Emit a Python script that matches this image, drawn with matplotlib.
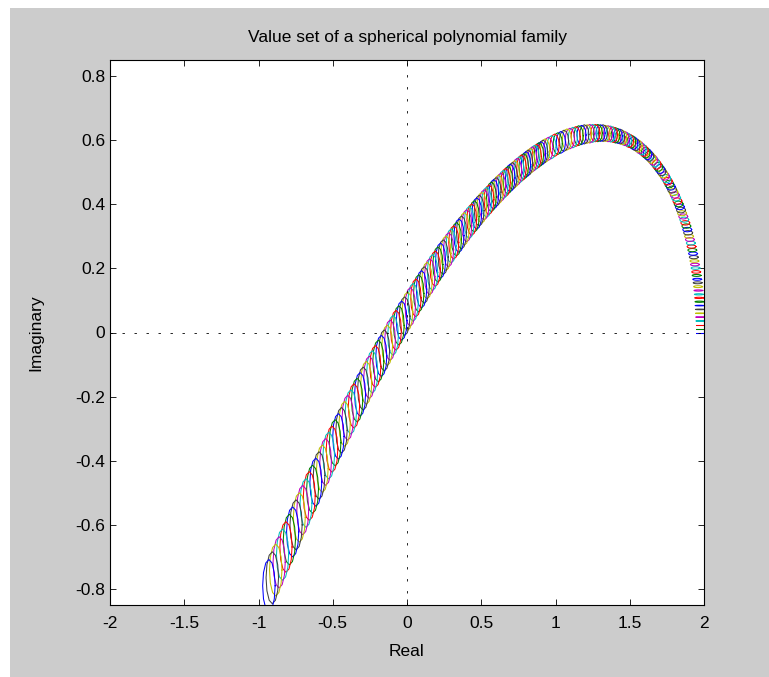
import numpy as np
import matplotlib
matplotlib.use('Agg')
import matplotlib.pyplot as plt
from matplotlib.patches import Rectangle

# value set at each frequency: centre (real, imag) and half-widths of the ellipse
value_re = [
    1.976, 1.976, 1.976, 1.975, 1.974, 1.973, 1.972, 1.970, 1.969, 1.967,
    1.965, 1.962, 1.960, 1.957, 1.954, 1.950, 1.947, 1.943, 1.939, 1.935,
    1.931, 1.926, 1.921, 1.916, 1.911, 1.905, 1.899, 1.893, 1.887, 1.881,
    1.874, 1.867, 1.860, 1.852, 1.845, 1.837, 1.829, 1.821, 1.812, 1.803,
    1.794, 1.785, 1.776, 1.766, 1.756, 1.746, 1.736, 1.725, 1.714, 1.703,
    1.692, 1.681, 1.669, 1.657, 1.645, 1.633, 1.620, 1.607, 1.594, 1.581,
    1.567, 1.554, 1.540, 1.525, 1.511, 1.496, 1.482, 1.466, 1.451, 1.436,
    1.420, 1.404, 1.388, 1.371, 1.354, 1.337, 1.320, 1.303, 1.285, 1.268,
    1.250, 1.231, 1.213, 1.194, 1.175, 1.156, 1.136, 1.117, 1.097, 1.077,
    1.057, 1.036, 1.015, 0.994, 0.973, 0.952, 0.930,
    0.916, 0.902, 0.888, 0.873, 0.859, 0.844, 0.830, 0.815, 0.801, 0.786,
    0.771, 0.756, 0.741, 0.725, 0.710, 0.695, 0.679, 0.664, 0.648, 0.632,
    0.616, 0.600, 0.584, 0.568, 0.552, 0.536, 0.519, 0.503, 0.486, 0.470,
    0.453, 0.436, 0.419, 0.402, 0.385, 0.367, 0.350, 0.333, 0.315, 0.297,
    0.280, 0.262, 0.244, 0.226, 0.208, 0.190, 0.172, 0.153, 0.135, 0.116,
    0.098, 0.079, 0.060, 0.041, 0.022, 0.003, -0.016, -0.036, -0.055, -0.074,
    -0.094, -0.114, -0.133, -0.153, -0.173, -0.193, -0.213, -0.234, -0.254, -0.274,
    -0.295, -0.316, -0.336, -0.357, -0.378, -0.399, -0.420, -0.441, -0.462, -0.484,
    -0.505, -0.527, -0.548, -0.570, -0.592, -0.614, -0.636, -0.658, -0.680, -0.702,
    -0.725, -0.747, -0.770, -0.792, -0.815, -0.838, -0.861, -0.884, -0.907, -0.930,
]
value_im = [
    0.000, 0.012, 0.024, 0.036, 0.048, 0.060, 0.072, 0.084, 0.096, 0.108,
    0.119, 0.131, 0.143, 0.155, 0.166, 0.178, 0.189, 0.201, 0.212, 0.223,
    0.235, 0.246, 0.257, 0.268, 0.279, 0.290, 0.300, 0.311, 0.321, 0.332,
    0.342, 0.352, 0.362, 0.372, 0.382, 0.392, 0.401, 0.410, 0.420, 0.429,
    0.438, 0.446, 0.455, 0.463, 0.472, 0.480, 0.488, 0.495, 0.503, 0.510,
    0.517, 0.524, 0.531, 0.538, 0.544, 0.550, 0.556, 0.561, 0.567, 0.572,
    0.577, 0.582, 0.586, 0.591, 0.595, 0.598, 0.602, 0.605, 0.608, 0.611,
    0.613, 0.615, 0.617, 0.619, 0.620, 0.621, 0.622, 0.622, 0.622, 0.622,
    0.621, 0.620, 0.619, 0.618, 0.616, 0.614, 0.611, 0.608, 0.605, 0.602,
    0.598, 0.593, 0.589, 0.584, 0.578, 0.573, 0.567,
    0.563, 0.558, 0.554, 0.549, 0.545, 0.540, 0.535, 0.529, 0.524, 0.518,
    0.513, 0.507, 0.501, 0.494, 0.488, 0.482, 0.475, 0.468, 0.461, 0.453,
    0.446, 0.438, 0.431, 0.423, 0.414, 0.406, 0.398, 0.389, 0.380, 0.371,
    0.362, 0.352, 0.343, 0.333, 0.323, 0.312, 0.302, 0.291, 0.281, 0.270,
    0.258, 0.247, 0.235, 0.224, 0.212, 0.199, 0.187, 0.174, 0.162, 0.148,
    0.135, 0.122, 0.108, 0.094, 0.080, 0.066, 0.051, 0.037, 0.022, 0.007,
    -0.009, -0.024, -0.040, -0.056, -0.073, -0.089, -0.106, -0.123, -0.140, -0.157,
    -0.175, -0.193, -0.211, -0.229, -0.248, -0.266, -0.285, -0.305, -0.324, -0.344,
    -0.364, -0.384, -0.404, -0.425, -0.446, -0.467, -0.489, -0.510, -0.532, -0.554,
    -0.577, -0.600, -0.622, -0.646, -0.669, -0.693, -0.717, -0.741, -0.765, -0.790,
]
half_re = [
    0.030, 0.030, 0.030, 0.030, 0.030, 0.030, 0.030, 0.030, 0.030, 0.030,
    0.030, 0.030, 0.030, 0.030, 0.030, 0.030, 0.030, 0.030, 0.030, 0.030,
    0.030, 0.030, 0.030, 0.030, 0.030, 0.030, 0.030, 0.030, 0.030, 0.030,
    0.030, 0.030, 0.030, 0.030, 0.030, 0.030, 0.030, 0.030, 0.030, 0.030,
    0.030, 0.030, 0.030, 0.030, 0.030, 0.030, 0.030, 0.030, 0.030, 0.030,
    0.030, 0.030, 0.030, 0.030, 0.030, 0.030, 0.030, 0.030, 0.030, 0.030,
    0.030, 0.030, 0.030, 0.030, 0.030, 0.030, 0.030, 0.030, 0.030, 0.030,
    0.030, 0.030, 0.030, 0.031, 0.031, 0.031, 0.031, 0.031, 0.031, 0.031,
    0.031, 0.031, 0.031, 0.031, 0.031, 0.031, 0.031, 0.031, 0.031, 0.031,
    0.031, 0.031, 0.031, 0.031, 0.031, 0.031, 0.032,
    0.032, 0.032, 0.032, 0.032, 0.032, 0.032, 0.032, 0.032, 0.032, 0.032,
    0.032, 0.032, 0.032, 0.032, 0.032, 0.032, 0.032, 0.032, 0.033, 0.033,
    0.033, 0.033, 0.033, 0.033, 0.033, 0.033, 0.033, 0.033, 0.033, 0.033,
    0.033, 0.033, 0.033, 0.034, 0.034, 0.034, 0.034, 0.034, 0.034, 0.034,
    0.034, 0.034, 0.034, 0.034, 0.034, 0.035, 0.035, 0.035, 0.035, 0.035,
    0.035, 0.035, 0.035, 0.035, 0.035, 0.036, 0.036, 0.036, 0.036, 0.036,
    0.036, 0.036, 0.036, 0.036, 0.037, 0.037, 0.037, 0.037, 0.037, 0.037,
    0.037, 0.037, 0.038, 0.038, 0.038, 0.038, 0.038, 0.038, 0.038, 0.039,
    0.039, 0.039, 0.039, 0.039, 0.039, 0.040, 0.040, 0.040, 0.040, 0.040,
    0.040, 0.041, 0.041, 0.041, 0.041, 0.041, 0.041, 0.042, 0.042, 0.042,
]
half_im = [
    0.000, 0.000, 0.000, 0.001, 0.001, 0.001, 0.001, 0.001, 0.002, 0.002,
    0.002, 0.002, 0.003, 0.003, 0.003, 0.003, 0.004, 0.004, 0.004, 0.004,
    0.005, 0.005, 0.005, 0.005, 0.006, 0.006, 0.006, 0.007, 0.007, 0.007,
    0.007, 0.008, 0.008, 0.008, 0.009, 0.009, 0.009, 0.010, 0.010, 0.010,
    0.011, 0.011, 0.011, 0.012, 0.012, 0.013, 0.013, 0.013, 0.014, 0.014,
    0.014, 0.015, 0.015, 0.016, 0.016, 0.016, 0.017, 0.017, 0.018, 0.018,
    0.019, 0.019, 0.019, 0.020, 0.020, 0.021, 0.021, 0.022, 0.022, 0.023,
    0.023, 0.024, 0.024, 0.025, 0.025, 0.025, 0.026, 0.026, 0.027, 0.027,
    0.028, 0.029, 0.029, 0.030, 0.030, 0.031, 0.031, 0.032, 0.032, 0.033,
    0.033, 0.034, 0.034, 0.035, 0.036, 0.036, 0.037,
    0.037, 0.037, 0.038, 0.038, 0.039, 0.039, 0.039, 0.040, 0.040, 0.040,
    0.041, 0.041, 0.042, 0.042, 0.042, 0.043, 0.043, 0.044, 0.044, 0.044,
    0.045, 0.045, 0.046, 0.046, 0.046, 0.047, 0.047, 0.048, 0.048, 0.049,
    0.049, 0.049, 0.050, 0.050, 0.051, 0.051, 0.052, 0.052, 0.052, 0.053,
    0.053, 0.054, 0.054, 0.055, 0.055, 0.055, 0.056, 0.056, 0.057, 0.057,
    0.058, 0.058, 0.059, 0.059, 0.060, 0.060, 0.060, 0.061, 0.061, 0.062,
    0.062, 0.063, 0.063, 0.064, 0.064, 0.065, 0.065, 0.066, 0.066, 0.067,
    0.067, 0.068, 0.068, 0.069, 0.069, 0.070, 0.070, 0.071, 0.071, 0.072,
    0.072, 0.073, 0.073, 0.074, 0.074, 0.075, 0.075, 0.076, 0.076, 0.077,
    0.077, 0.078, 0.078, 0.079, 0.079, 0.080, 0.080, 0.081, 0.081, 0.082,
]

# old matlab line colour order
colors = [(0, 0, 1), (0, 0.5, 0), (1, 0, 0), (0, 0.75, 0.75),
          (0.75, 0, 0.75), (0.75, 0.75, 0), (0.25, 0.25, 0.25)]

plt.rcParams['font.family'] = ['Liberation Sans', 'DejaVu Sans']

W, H = 769, 677
fig = plt.figure(figsize=(W / 100, H / 100), dpi=100, facecolor='white')
fig.patches.append(Rectangle((10 / W, 0), 1, 1 - 8 / H, transform=fig.transFigure,
                             facecolor='#cccccc', edgecolor='none', zorder=-10))
ax = fig.add_axes([110 / W, 1 - 605 / H, (704 - 110) / W, (605 - 60) / H])

th = np.linspace(0, 2 * np.pi, 13)
for k in range(len(value_re)):
    ax.plot(value_re[k] + half_re[k] * np.cos(th), value_im[k] + half_im[k] * np.sin(th),
            color=colors[k % 7], lw=0.75)

dash = (0, (2.9, 11.5))
ax.axhline(0, color='k', lw=0.6, linestyle=dash)
ax.axvline(0, color='k', lw=0.6, linestyle=dash)

ax.set_xlim(-2, 2)
ax.set_ylim(-0.85, 0.85)
ax.set_xticks([-2, -1.5, -1, -0.5, 0, 0.5, 1, 1.5, 2])
ax.set_xticklabels(['-2', '-1.5', '-1', '-0.5', '0', '0.5', '1', '1.5', '2'])
ax.set_yticks([-0.8, -0.6, -0.4, -0.2, 0, 0.2, 0.4, 0.6, 0.8])
ax.set_yticklabels(['-0.8', '-0.6', '-0.4', '-0.2', '0', '0.2', '0.4', '0.6', '0.8'])
ax.tick_params(direction='in', length=4.5, width=0.6, top=True, right=True,
               labelsize=12.5)
ax.tick_params(axis='x', pad=8)
ax.tick_params(axis='y', pad=3.5)
for s in ax.spines.values():
    s.set_linewidth(0.8)
ax.set_title('Value set of a spherical polynomial family', fontsize=12.5, pad=13)
ax.set_xlabel('Real', fontsize=12.5)
ax.set_ylabel('Imaginary', fontsize=12.5)
ax.xaxis.set_label_coords(0.5, -0.071)
ax.yaxis.set_label_coords(-0.112, 0.5)

fig.savefig('out.png', dpi=100, facecolor=fig.get_facecolor())
